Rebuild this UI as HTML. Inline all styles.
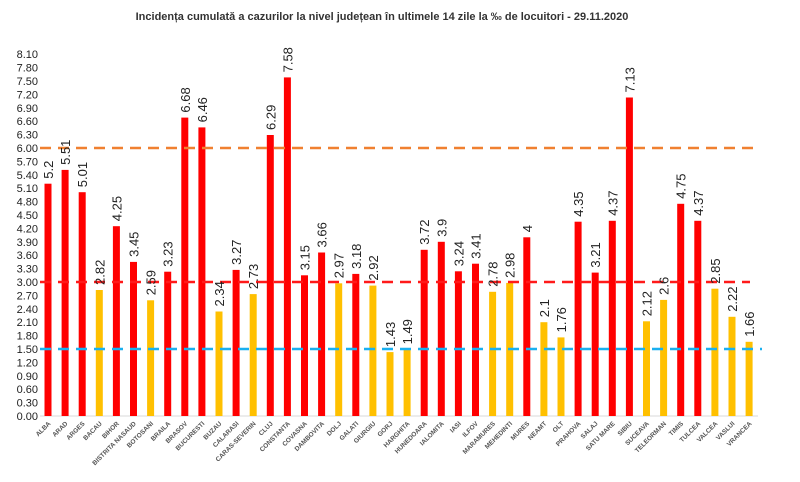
<!DOCTYPE html><html><head><meta charset="utf-8"><style>body{margin:0;background:#fff}svg{display:block}</style></head><body>
<svg width="800" height="482" xmlns="http://www.w3.org/2000/svg" font-family="Liberation Sans, sans-serif">
<text x="382" y="20" text-anchor="middle" font-size="11" font-weight="bold" fill="#333">Incidența cumulată a cazurilor la nivel județean în ultimele 14 zile la ‰ de locuitori - 29.11.2020</text>
<g font-size="11" fill="#222" text-anchor="end">
<text x="38" y="420">0.00</text><text x="38" y="406.6">0.30</text><text x="38" y="393.2">0.60</text><text x="38" y="379.8">0.90</text><text x="38" y="366.4">1.20</text><text x="38" y="353">1.50</text><text x="38" y="339.6">1.80</text><text x="38" y="326.2">2.10</text><text x="38" y="312.8">2.40</text><text x="38" y="299.4">2.70</text><text x="38" y="286">3.00</text><text x="38" y="272.6">3.30</text><text x="38" y="259.2">3.60</text><text x="38" y="245.8">3.90</text><text x="38" y="232.4">4.20</text><text x="38" y="219">4.50</text><text x="38" y="205.6">4.80</text><text x="38" y="192.2">5.10</text><text x="38" y="178.8">5.40</text><text x="38" y="165.4">5.70</text><text x="38" y="152">6.00</text><text x="38" y="138.6">6.30</text><text x="38" y="125.2">6.60</text><text x="38" y="111.8">6.90</text><text x="38" y="98.4">7.20</text><text x="38" y="85">7.50</text><text x="38" y="71.6">7.80</text><text x="38" y="58.2">8.10</text>
</g>
<line x1="40" y1="416" x2="758" y2="416" stroke="#d9d9d9" stroke-width="1"/>
<g>
<rect x="44.5" y="183.7" width="7" height="232.3" fill="#f00"/>
<rect x="61.6" y="169.9" width="7" height="246.1" fill="#f00"/>
<rect x="78.7" y="192.2" width="7" height="223.8" fill="#f00"/>
<rect x="95.8" y="290" width="7" height="126" fill="#ffc000"/>
<rect x="112.9" y="226.2" width="7" height="189.8" fill="#f00"/>
<rect x="130" y="261.9" width="7" height="154.1" fill="#f00"/>
<rect x="147.1" y="300.3" width="7" height="115.7" fill="#ffc000"/>
<rect x="164.2" y="271.7" width="7" height="144.3" fill="#f00"/>
<rect x="181.3" y="117.6" width="7" height="298.4" fill="#f00"/>
<rect x="198.4" y="127.4" width="7" height="288.6" fill="#f00"/>
<rect x="215.5" y="311.5" width="7" height="104.5" fill="#ffc000"/>
<rect x="232.6" y="269.9" width="7" height="146.1" fill="#f00"/>
<rect x="249.7" y="294.1" width="7" height="121.9" fill="#ffc000"/>
<rect x="266.8" y="135" width="7" height="281" fill="#f00"/>
<rect x="283.9" y="77.4" width="7" height="338.6" fill="#f00"/>
<rect x="301" y="275.3" width="7" height="140.7" fill="#f00"/>
<rect x="318.1" y="252.5" width="7" height="163.5" fill="#f00"/>
<rect x="335.2" y="283.3" width="7" height="132.7" fill="#ffc000"/>
<rect x="352.3" y="273.9" width="7" height="142.1" fill="#f00"/>
<rect x="369.4" y="285.6" width="7" height="130.4" fill="#ffc000"/>
<rect x="386.5" y="352.1" width="7" height="63.9" fill="#ffc000"/>
<rect x="403.6" y="349.4" width="7" height="66.6" fill="#ffc000"/>
<rect x="420.7" y="249.8" width="7" height="166.2" fill="#f00"/>
<rect x="437.8" y="241.8" width="7" height="174.2" fill="#f00"/>
<rect x="454.9" y="271.3" width="7" height="144.7" fill="#f00"/>
<rect x="472" y="263.7" width="7" height="152.3" fill="#f00"/>
<rect x="489.1" y="291.8" width="7" height="124.2" fill="#ffc000"/>
<rect x="506.2" y="282.9" width="7" height="133.1" fill="#ffc000"/>
<rect x="523.3" y="237.3" width="7" height="178.7" fill="#f00"/>
<rect x="540.4" y="322.2" width="7" height="93.8" fill="#ffc000"/>
<rect x="557.5" y="337.4" width="7" height="78.6" fill="#ffc000"/>
<rect x="574.6" y="221.7" width="7" height="194.3" fill="#f00"/>
<rect x="591.7" y="272.6" width="7" height="143.4" fill="#f00"/>
<rect x="608.8" y="220.8" width="7" height="195.2" fill="#f00"/>
<rect x="625.9" y="97.5" width="7" height="318.5" fill="#f00"/>
<rect x="643" y="321.3" width="7" height="94.7" fill="#ffc000"/>
<rect x="660.1" y="299.9" width="7" height="116.1" fill="#ffc000"/>
<rect x="677.2" y="203.8" width="7" height="212.2" fill="#f00"/>
<rect x="694.3" y="220.8" width="7" height="195.2" fill="#f00"/>
<rect x="711.4" y="288.7" width="7" height="127.3" fill="#ffc000"/>
<rect x="728.5" y="316.8" width="7" height="99.2" fill="#ffc000"/>
<rect x="745.6" y="341.8" width="7" height="74.2" fill="#ffc000"/>
</g>
<line x1="40" y1="148" x2="756" y2="148" stroke="#f08030" stroke-width="2.5" stroke-dasharray="11,7"/>
<line x1="40" y1="282" x2="750" y2="282" stroke="#ff1a1a" stroke-width="2.5" stroke-dasharray="11,7"/>
<line x1="40" y1="349" x2="762" y2="349" stroke="#1ab0f0" stroke-width="2.5" stroke-dasharray="11,7"/>
<g font-size="13" fill="#222">
<text transform="translate(53,178.7) rotate(-90)">5.2</text>
<text transform="translate(70.1,164.9) rotate(-90)">5.51</text>
<text transform="translate(87.2,187.2) rotate(-90)">5.01</text>
<text transform="translate(104.3,285) rotate(-90)">2.82</text>
<text transform="translate(121.4,221.2) rotate(-90)">4.25</text>
<text transform="translate(138.5,256.9) rotate(-90)">3.45</text>
<text transform="translate(155.6,295.3) rotate(-90)">2.59</text>
<text transform="translate(172.7,266.7) rotate(-90)">3.23</text>
<text transform="translate(189.8,112.6) rotate(-90)">6.68</text>
<text transform="translate(206.9,122.4) rotate(-90)">6.46</text>
<text transform="translate(224,306.5) rotate(-90)">2.34</text>
<text transform="translate(241.1,264.9) rotate(-90)">3.27</text>
<text transform="translate(258.2,289.1) rotate(-90)">2.73</text>
<text transform="translate(275.3,130) rotate(-90)">6.29</text>
<text transform="translate(292.4,72.4) rotate(-90)">7.58</text>
<text transform="translate(309.5,270.3) rotate(-90)">3.15</text>
<text transform="translate(326.6,247.5) rotate(-90)">3.66</text>
<text transform="translate(343.7,278.3) rotate(-90)">2.97</text>
<text transform="translate(360.8,268.9) rotate(-90)">3.18</text>
<text transform="translate(377.9,280.6) rotate(-90)">2.92</text>
<text transform="translate(395,347.1) rotate(-90)">1.43</text>
<text transform="translate(412.1,344.4) rotate(-90)">1.49</text>
<text transform="translate(429.2,244.8) rotate(-90)">3.72</text>
<text transform="translate(446.3,236.8) rotate(-90)">3.9</text>
<text transform="translate(463.4,266.3) rotate(-90)">3.24</text>
<text transform="translate(480.5,258.7) rotate(-90)">3.41</text>
<text transform="translate(497.6,286.8) rotate(-90)">2.78</text>
<text transform="translate(514.7,277.9) rotate(-90)">2.98</text>
<text transform="translate(531.8,232.3) rotate(-90)">4</text>
<text transform="translate(548.9,317.2) rotate(-90)">2.1</text>
<text transform="translate(566,332.4) rotate(-90)">1.76</text>
<text transform="translate(583.1,216.7) rotate(-90)">4.35</text>
<text transform="translate(600.2,267.6) rotate(-90)">3.21</text>
<text transform="translate(617.3,215.8) rotate(-90)">4.37</text>
<text transform="translate(634.4,92.5) rotate(-90)">7.13</text>
<text transform="translate(651.5,316.3) rotate(-90)">2.12</text>
<text transform="translate(668.6,294.9) rotate(-90)">2.6</text>
<text transform="translate(685.7,198.8) rotate(-90)">4.75</text>
<text transform="translate(702.8,215.8) rotate(-90)">4.37</text>
<text transform="translate(719.9,283.7) rotate(-90)">2.85</text>
<text transform="translate(737,311.8) rotate(-90)">2.22</text>
<text transform="translate(754.1,336.8) rotate(-90)">1.66</text>
</g>
<g font-size="6.5" font-weight="bold" fill="#555" text-anchor="end">
<text transform="translate(51,424) rotate(-45)">ALBA</text>
<text transform="translate(68.1,424) rotate(-45)">ARAD</text>
<text transform="translate(85.2,424) rotate(-45)">ARGES</text>
<text transform="translate(102.3,424) rotate(-45)">BACAU</text>
<text transform="translate(119.4,424) rotate(-45)">BIHOR</text>
<text transform="translate(136.5,424) rotate(-45)">BISTRITA NASAUD</text>
<text transform="translate(153.6,424) rotate(-45)">BOTOSANI</text>
<text transform="translate(170.7,424) rotate(-45)">BRAILA</text>
<text transform="translate(187.8,424) rotate(-45)">BRASOV</text>
<text transform="translate(204.9,424) rotate(-45)">BUCURESTI</text>
<text transform="translate(222,424) rotate(-45)">BUZAU</text>
<text transform="translate(239.1,424) rotate(-45)">CALARASI</text>
<text transform="translate(256.2,424) rotate(-45)">CARAS-SEVERIN</text>
<text transform="translate(273.3,424) rotate(-45)">CLUJ</text>
<text transform="translate(290.4,424) rotate(-45)">CONSTANTA</text>
<text transform="translate(307.5,424) rotate(-45)">COVASNA</text>
<text transform="translate(324.6,424) rotate(-45)">DAMBOVITA</text>
<text transform="translate(341.7,424) rotate(-45)">DOLJ</text>
<text transform="translate(358.8,424) rotate(-45)">GALATI</text>
<text transform="translate(375.9,424) rotate(-45)">GIURGIU</text>
<text transform="translate(393,424) rotate(-45)">GORJ</text>
<text transform="translate(410.1,424) rotate(-45)">HARGHITA</text>
<text transform="translate(427.2,424) rotate(-45)">HUNEDOARA</text>
<text transform="translate(444.3,424) rotate(-45)">IALOMITA</text>
<text transform="translate(461.4,424) rotate(-45)">IASI</text>
<text transform="translate(478.5,424) rotate(-45)">ILFOV</text>
<text transform="translate(495.6,424) rotate(-45)">MARAMURES</text>
<text transform="translate(512.7,424) rotate(-45)">MEHEDINTI</text>
<text transform="translate(529.8,424) rotate(-45)">MURES</text>
<text transform="translate(546.9,424) rotate(-45)">NEAMT</text>
<text transform="translate(564,424) rotate(-45)">OLT</text>
<text transform="translate(581.1,424) rotate(-45)">PRAHOVA</text>
<text transform="translate(598.2,424) rotate(-45)">SALAJ</text>
<text transform="translate(615.3,424) rotate(-45)">SATU MARE</text>
<text transform="translate(632.4,424) rotate(-45)">SIBIU</text>
<text transform="translate(649.5,424) rotate(-45)">SUCEAVA</text>
<text transform="translate(666.6,424) rotate(-45)">TELEORMAN</text>
<text transform="translate(683.7,424) rotate(-45)">TIMIS</text>
<text transform="translate(700.8,424) rotate(-45)">TULCEA</text>
<text transform="translate(717.9,424) rotate(-45)">VALCEA</text>
<text transform="translate(735,424) rotate(-45)">VASLUI</text>
<text transform="translate(752.1,424) rotate(-45)">VRANCEA</text>
</g>
</svg>
</body></html>
